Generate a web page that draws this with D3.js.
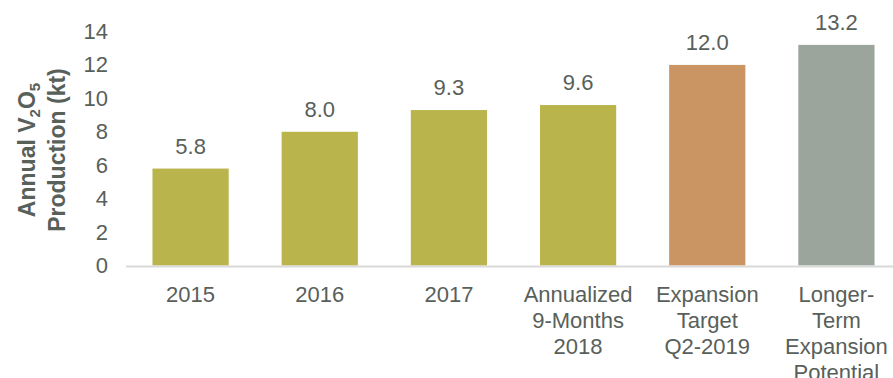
<!DOCTYPE html>
<html>
<head>
<meta charset="utf-8">
<script src="https://cdn.jsdelivr.net/npm/d3@7"></script>
<style>
  html, body { margin: 0; padding: 0; background: #fff; overflow: hidden; }
  svg { display: block; font-family: "Liberation Sans", Arial, sans-serif; }
</style>
</head>
<body>
<svg id="chart" width="893" height="378"></svg>
<script>
// Annual V2O5 production, actual and planned (kt)
const categories = [
  ["2015"],
  ["2016"],
  ["2017"],
  ["Annualized", "9-Months", "2018"],
  ["Expansion", "Target", "Q2-2019"],
  ["Longer-", "Term", "Expansion", "Potential"]
];
const values = [5.8, 8.0, 9.3, 9.6, 12.0, 13.2];
const barColors = ["#b9b44c", "#b9b44c", "#b9b44c", "#b9b44c", "#ca9562", "#9ca59c"];
const yTicks = [0, 2, 4, 6, 8, 10, 12, 14];

const textColor = "#58605a";
const svg = d3.select("#chart");

const x = d3.scaleBand()
  .domain(d3.range(values.length))
  .range([126, 901])
  .paddingInner(0.41)
  .paddingOuter(0.205);

const y = d3.scaleLinear().domain([0, 14]).range([265.5, 31.5]);

// y-axis tick labels (no axis line)
const yAxis = d3.axisLeft(y).tickValues(yTicks).tickSize(0).tickPadding(0).tickFormat(d3.format("d"));
const yg = svg.append("g").attr("transform", "translate(108,0)").call(yAxis);
yg.select(".domain").remove();
yg.selectAll("text")
  .attr("fill", textColor)
  .style("font-size", "22px")
  .style("font-family", "'Liberation Sans', Arial, sans-serif");

// bars
svg.append("g").selectAll("rect")
  .data(values)
  .join("rect")
  .attr("x", (d, i) => x(i))
  .attr("width", x.bandwidth())
  .attr("y", d => y(d))
  .attr("height", d => y(0) - y(d))
  .attr("fill", (d, i) => barColors[i]);

// baseline
svg.append("line")
  .attr("x1", 126).attr("x2", 893)
  .attr("y1", y(0) + 1).attr("y2", y(0) + 1)
  .attr("stroke", "#d9d9d9").attr("stroke-width", 2);

// value labels
svg.append("g").selectAll("text")
  .data(values)
  .join("text")
  .attr("x", (d, i) => x(i) + x.bandwidth() / 2)
  .attr("y", d => y(d) - 15)
  .attr("text-anchor", "middle")
  .attr("fill", textColor)
  .style("font-size", "22px")
  .text(d => d3.format(".1f")(d));

// category labels
const cat = svg.append("g").selectAll("text")
  .data(categories)
  .join("text")
  .attr("text-anchor", "middle")
  .attr("fill", textColor)
  .style("font-size", "22px");
cat.each(function(lines, i) {
  d3.select(this).selectAll("tspan")
    .data(lines)
    .join("tspan")
    .attr("x", x(i) + x.bandwidth() / 2)
    .attr("y", (l, j) => 302 + j * 26)
    .text(l => l);
});

// y-axis title
const title = svg.append("g")
  .attr("transform", "translate(0,150) rotate(-90)")
  .attr("fill", textColor)
  .style("font-size", "23px")
  .style("font-weight", "bold");
const t1 = title.append("text").attr("x", 0).attr("y", 35).attr("text-anchor", "middle");
t1.append("tspan").text("Annual V");
t1.append("tspan").text("2").style("font-size", "15px").attr("dy", 5);
t1.append("tspan").text("O").attr("dy", -5);
t1.append("tspan").text("5").style("font-size", "15px").attr("dy", 5);
title.append("text").attr("x", 0).attr("y", 65).attr("text-anchor", "middle").text("Production (kt)");
</script>
</body>
</html>
